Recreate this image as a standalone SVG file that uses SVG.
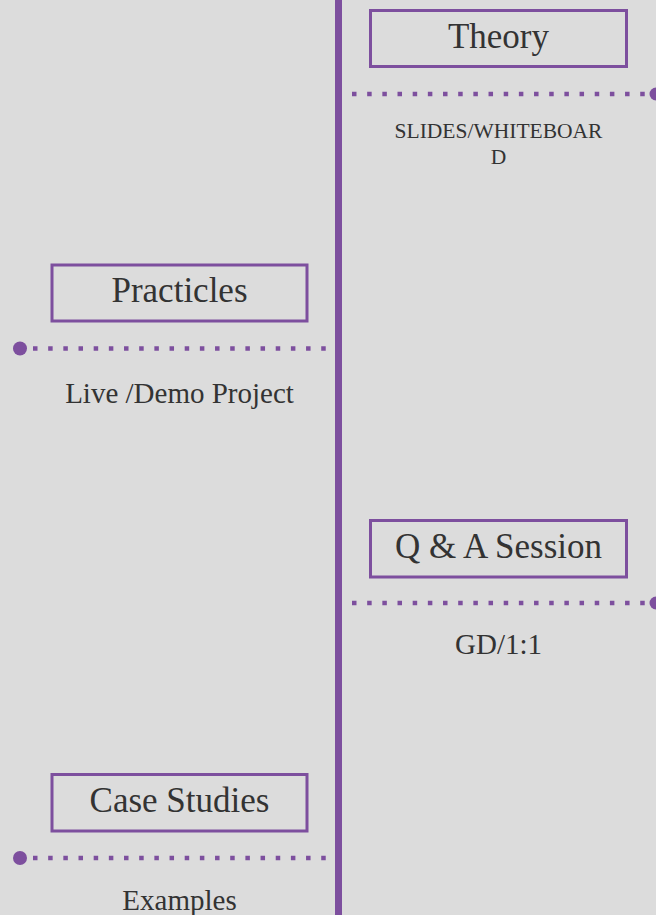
<svg xmlns="http://www.w3.org/2000/svg" width="656" height="915" viewBox="0 0 656 915">
<style>
.bg{fill:#dcdcdc}
.box{fill:none;stroke:#7d4f9e;stroke-width:3}
.title{font-family:"Liberation Serif","DejaVu Serif",serif;font-size:35px;fill:#333333;text-anchor:middle}
.label{font-family:"Liberation Serif","DejaVu Serif",serif;font-size:29px;fill:#333333;text-anchor:middle}
.small{font-family:"Liberation Serif","DejaVu Serif",serif;font-size:21.5px;fill:#333333;text-anchor:middle}
.dots{stroke:#7d4f9e;stroke-width:4.5;stroke-dasharray:4.5 10.67;fill:none}
.end{fill:#7d4f9e}
.axis{stroke:#7d4f9e;stroke-width:7}
</style>
<rect class="bg" x="0" y="0" width="656" height="915"/>
<g id="connectors">
<line class="axis" x1="338.5" y1="0" x2="338.5" y2="915"/>
<line class="dots" x1="352" y1="94" x2="650" y2="94"/>
<circle class="end" cx="656" cy="94" r="6.5"/>
<line class="dots" x1="33" y1="348.5" x2="330" y2="348.5"/>
<circle class="end" cx="20" cy="348.5" r="7"/>
<line class="dots" x1="352" y1="603" x2="650" y2="603"/>
<circle class="end" cx="656" cy="603" r="6.5"/>
<line class="dots" x1="33" y1="858" x2="330" y2="858"/>
<circle class="end" cx="20" cy="858" r="7"/>
</g>
<g id="theory">
<rect class="box" x="370.5" y="10.5" width="256" height="56"/>
<text class="title" x="498.5" y="48">Theory</text>
<text class="small" x="498.5" y="137.5">SLIDES/WHITEBOAR</text>
<text class="small" x="498.5" y="164">D</text>
</g>
<g id="practicles">
<rect class="box" x="52" y="265" width="255" height="56"/>
<text class="title" x="179.5" y="302">Practicles</text>
<text class="label" x="179.5" y="403">Live /Demo Project</text>
</g>
<g id="qa">
<rect class="box" x="370.5" y="520.5" width="256" height="56.5"/>
<text class="title" x="498.5" y="558">Q &amp; A Session</text>
<text class="label" x="498.5" y="654">GD/1:1</text>
</g>
<g id="case-studies">
<rect class="box" x="52" y="774.5" width="255" height="56.5"/>
<text class="title" x="179.5" y="812">Case Studies</text>
<text class="label" x="179.5" y="910">Examples</text>
</g>
</svg>
